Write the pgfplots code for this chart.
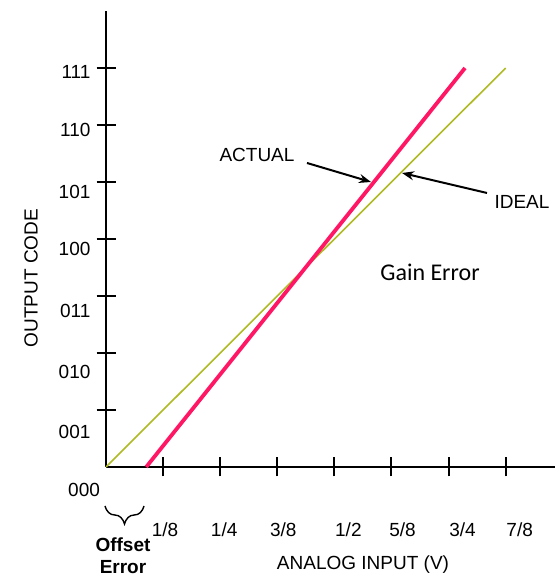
\documentclass[border=0pt]{standalone}
\usepackage{fontspec}
\setmainfont{Liberation Sans}
\newfontfamily\calibri{Carlito}
\usepackage{pgfplots}
\pgfplotsset{compat=1.18}
\usetikzlibrary{decorations.pathreplacing,arrows.meta}
\definecolor{idealc}{RGB}{176,186,36}
\definecolor{actualc}{RGB}{255,22,100}
\newcommand\fs{\fontsize{9.5pt}{11pt}\selectfont}
\begin{document}
\begin{tikzpicture}[x=0.5pt,y=0.5pt,font=\fs]
\path[use as bounding box] (0,0) rectangle (555,576);
\begin{axis}[
  at={(53pt,54.5pt)}, anchor=origin,
  scale only axis, width=224.5pt, height=228pt,
  xmin=0, xmax=0.983, ymin=0, ymax=8,
  axis lines*=left,
  axis line style={line width=1pt, black},
  clip=false,
  xtick={0.125,0.25,0.375,0.5,0.625,0.75,0.875},
  xticklabels={\hspace*{2pt}1/8,\hspace*{4pt}1/4,\hspace*{6pt}3/8,\hspace*{14pt}1/2,\hspace*{11pt}5/8,\hspace*{14pt}3/4,\hspace*{14pt}7/8},
  ytick={1,2,3,4,5,6,7},
  yticklabels={\raisebox{-14.4pt}{001},\raisebox{-12.9pt}{010},\raisebox{-10.9pt}{011},\raisebox{-8.4pt}{100},\raisebox{-8.4pt}{101},\raisebox{-5.9pt}{110},\raisebox{-5.4pt}{111}},
  extra y ticks={0},
  extra y tick labels={\raisebox{-14.9pt}{000}},
  extra y tick style={major tick length=0pt},
  xtick align=center, ytick align=center,
  major tick length=9.5pt,
  every tick/.style={black, line width=1pt},
  tick label style={font=\fs},
  xticklabel style={anchor=base, yshift=-30pt},
  yticklabel style={anchor=base east, xshift=0.5pt},
]
\addplot[idealc, line width=0.8pt] coordinates {(0,0) (0.875,7.0)};
\addplot[actualc, line width=1.9pt] coordinates {(0.088,0) (0.786,7.0)};
\end{axis}
\node[rotate=90] at (31,298) {OUTPUT CODE};
\node at (363,11) {ANALOG INPUT (V)};
\node at (257,421) {ACTUAL};
\node at (522,374) {IDEAL};
\node[font=\calibri\fontsize{12pt}{14pt}\selectfont] at (430,304) {Gain Error};
\draw[-{Stealth[length=6pt,width=4.5pt]}, line width=1pt] (307,413) -- (371,394);
\draw[-{Stealth[length=6pt,width=4.5pt]}, line width=1pt] (487,383) -- (402,403);
\draw[decorate, decoration={brace, amplitude=9pt}, line width=0.7pt] (144,70) -- (105,70);
\node[font=\bfseries\fs, align=center] at (123,20) {Offset\\Error};
\end{tikzpicture}
\end{document}
